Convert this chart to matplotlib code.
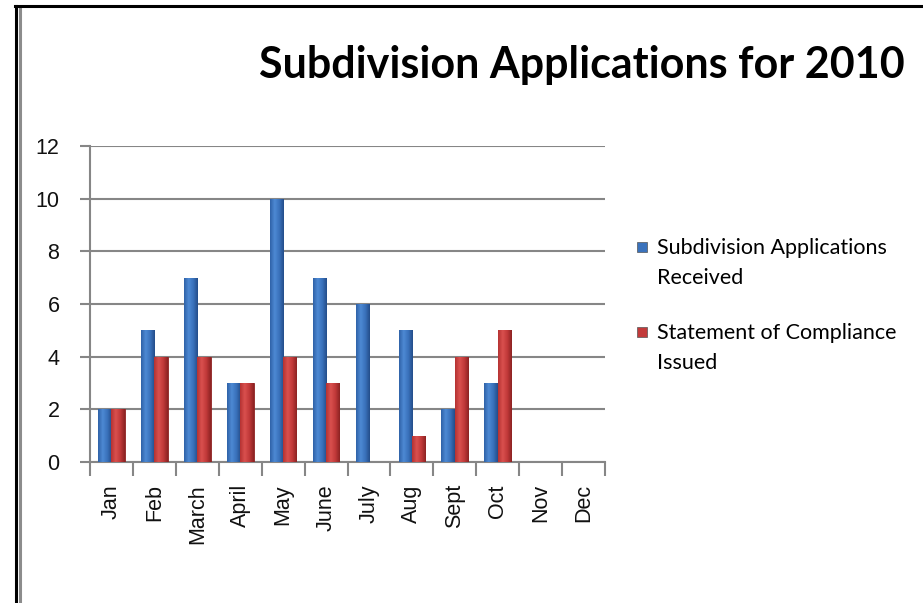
import numpy as np
import matplotlib.pyplot as plt
from matplotlib.colors import LinearSegmentedColormap
from matplotlib.lines import Line2D
from matplotlib.patches import Rectangle

months = ['Jan', 'Feb', 'March', 'April', 'May', 'June', 'July', 'Aug', 'Sept', 'Oct', 'Nov', 'Dec']
received = [2, 5, 7, 3, 10, 7, 6, 5, 2, 3, 0, 0]
issued = [2, 4, 4, 3, 4, 3, 0, 1, 4, 5, 0, 0]
series_names = ['Subdivision Applications\nReceived', 'Statement of Compliance\nIssued']
title = 'Subdivision Applications for 2010'
yticks = [0, 2, 4, 6, 8, 10, 12]

blue_grad = LinearSegmentedColormap.from_list('b', ['#2f62a8', '#4d89d3', '#3a72bc', '#244d8a'])
red_grad = LinearSegmentedColormap.from_list('r', ['#b53232', '#d9504e', '#c23a3a', '#8c2222'])
grid_col = '#868686'

fig = plt.figure(figsize=(9.23, 6.03), dpi=100)
ax = fig.add_axes([90 / 923, 1 - 462 / 603, 515 / 923, 316 / 603])

x = np.arange(len(months))
w = 0.31
b1 = ax.bar(x - w / 2, received, w, color='#3a72bc', edgecolor='#2a558f', linewidth=0.6, zorder=3)
b2 = ax.bar(x + w / 2, issued, w, color='#c23a3a', edgecolor='#8c2222', linewidth=0.6, zorder=3)

# horizontal gradient on each bar, clipped to the bar shape
grad = np.linspace(0, 1, 64).reshape(1, -1)
for bars, cmap in [(b1, blue_grad), (b2, red_grad)]:
    for r in bars:
        if r.get_height() <= 0:
            continue
        im = ax.imshow(grad, cmap=cmap, aspect='auto', zorder=4,
                       extent=[r.get_x(), r.get_x() + r.get_width(), 0, r.get_height()])
        im.set_clip_path(r)

ax.set_xlim(-0.5, len(months) - 0.5)
ax.set_ylim(0, 12)
ax.set_yticks(yticks)
ax.set_xticks(x)
ax.set_xticklabels(months, rotation=90, fontsize=15.5, family='Liberation Sans', color='#111111')
ax.set_xticks(np.arange(-0.5, len(months)), minor=True)
ax.tick_params(axis='x', which='major', length=0, pad=16)
ax.tick_params(axis='x', which='minor', length=10, color=grid_col, width=1.5)
ax.tick_params(axis='y', length=7, color=grid_col, width=1.5, labelsize=15.5, pad=15,
               labelcolor='#111111')
for lab in ax.get_yticklabels():
    lab.set_family('Liberation Sans')
ax.yaxis.grid(True, color=grid_col, linewidth=1.5, zorder=0)
ax.set_axisbelow(True)
for s in ['top', 'right']:
    ax.spines[s].set_visible(False)
for s in ['left', 'bottom']:
    ax.spines[s].set_color(grid_col)
    ax.spines[s].set_linewidth(1.5)

fig.text(905 / 923, 1 - 65 / 603, title, ha='right', va='center', fontsize=31,
         fontweight='bold', family='Lato')

# legend
for i, (name, col) in enumerate(zip(series_names, ['#3a72bc', '#c23a3a'])):
    ty = 1 - (247 + i * 85) / 603
    fig.patches.append(Rectangle((637 / 923, ty - 5 / 603), 10 / 923, 10 / 603,
                                 transform=fig.transFigure, facecolor=col,
                                 edgecolor='#555555', linewidth=0.5))
    fig.text(657 / 923, ty + 9 / 603, name, ha='left', va='top', fontsize=15.5,
             family='Lato', linespacing=1.6)

# frame of the chart area
fig.add_artist(Line2D([16 / 923, 16 / 923], [0, 1 - 6 / 603], color='black', linewidth=2.2,
                      transform=fig.transFigure))
fig.add_artist(Line2D([19.5 / 923, 19.5 / 923], [0, 1 - 9 / 603], color='#8c8c8c', linewidth=2.2,
                      transform=fig.transFigure))
fig.add_artist(Line2D([15 / 923, 1], [1 - 6 / 603, 1 - 6 / 603], color='black', linewidth=2.2,
                      transform=fig.transFigure))

fig.savefig('out.png', dpi=100)
